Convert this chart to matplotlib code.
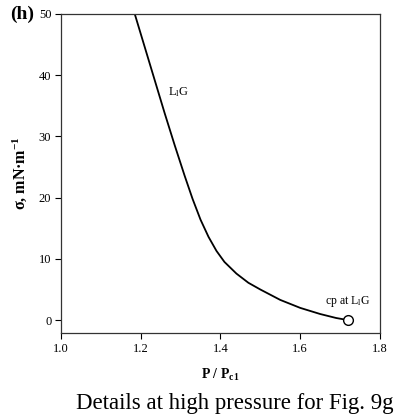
import matplotlib
matplotlib.use("Agg")
import matplotlib.pyplot as plt

plt.rcParams['font.family'] = ['Liberation Serif', 'DejaVu Serif']
plt.rcParams['mathtext.fontset'] = 'custom'
plt.rcParams['mathtext.rm'] = 'Liberation Serif'
plt.rcParams['mathtext.it'] = 'Liberation Serif:italic'
plt.rcParams['mathtext.bf'] = 'Liberation Serif:bold'

# L1G surface tension branch up to its critical point
p_ratio = [1.185, 1.21, 1.235, 1.26, 1.285, 1.31, 1.33, 1.35, 1.37, 1.39,
           1.41, 1.44, 1.47, 1.50, 1.55, 1.60, 1.65, 1.69, 1.72]
sigma = [50.0, 44.6, 39.2, 33.8, 28.6, 23.6, 19.8, 16.4, 13.6, 11.3,
         9.5, 7.6, 6.1, 5.0, 3.3, 2.0, 1.0, 0.35, 0.0]
cp_p = 1.72
cp_sigma = 0.0

x_ticks = [1.0, 1.2, 1.4, 1.6, 1.8]
y_ticks = [0, 10, 20, 30, 40, 50]

fig = plt.figure(figsize=(3.97, 4.19), dpi=100)
ax = fig.add_axes([0.1537, 0.2053, 0.8033, 0.7613])

ax.plot(p_ratio, sigma, color='black', lw=1.3, solid_joinstyle='round')
ax.plot([cp_p], [cp_sigma], 'o', ms=7, mfc='white', mec='black', mew=1.0)

ax.set_xlim(1.0, 1.8)
ax.set_ylim(-2.1, 50)
ax.set_xticks(x_ticks)
ax.set_xticklabels([f"{t:.1f}" for t in x_ticks])
ax.set_yticks(y_ticks)
ax.tick_params(direction='out', length=4, width=0.8, labelsize=9, pad=3)
for sp in ax.spines.values():
    sp.set_linewidth(0.9)
    sp.set_color('#333333')

ax.text(1.268, 37.2, 'L$_{\\rm l}$G', fontsize=9, va='center', ha='left')
ax.text(1.777, 3.0, 'cp at L$_{\\rm l}$G', fontsize=8.5, va='center', ha='right')

ax.set_xlabel('P / P$_{\\mathbf{c1}}$', fontsize=10, fontweight='bold', labelpad=9)
ax.set_ylabel('σ, mN·m$^{\\mathbf{-1}}$', fontsize=11.5, fontweight='bold', labelpad=7)

fig.text(0.025, 0.966, '(h)', fontsize=14, fontweight='bold', va='center', ha='left')
fig.text(0.99, 0.036, 'Details at high pressure for Fig. 9g', fontsize=16.4,
         va='center', ha='right')

fig.savefig('out.png', dpi=100)
